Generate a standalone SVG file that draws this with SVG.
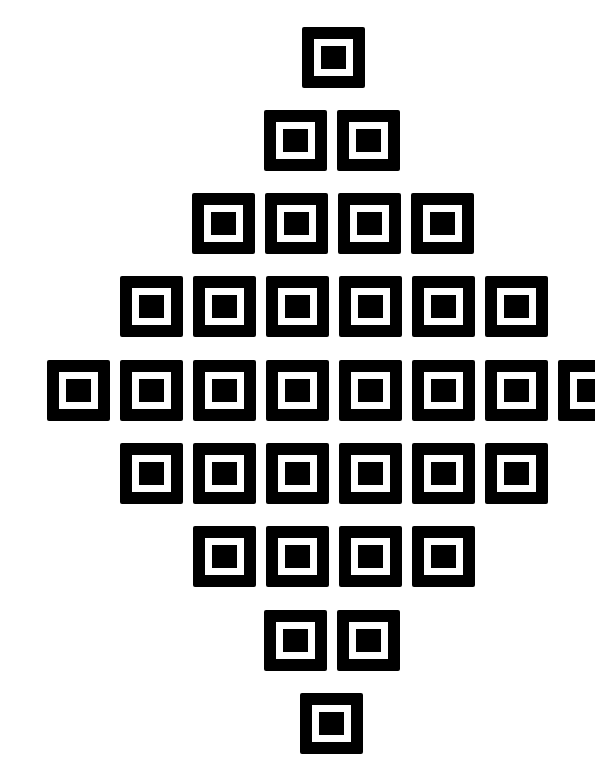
<svg xmlns="http://www.w3.org/2000/svg" xmlns:xlink="http://www.w3.org/1999/xlink" width="595" height="759" viewBox="0 0 595 759">
<defs>
<style>.o{fill:#000}.w{fill:#fff}</style>
<g id="sq">
<rect class="o" x="0" y="0" width="63" height="61" rx="2"/>
<rect class="w" x="12" y="12" width="39" height="37"/>
<rect class="o" x="19" y="19" width="25" height="23"/>
</g>
</defs>
<rect width="595" height="759" fill="#fff"/>
<g id="row1"><g id="n1_1"><use href="#sq" x="302" y="27"/></g></g>
<g id="row2"><g id="n2_1"><use href="#sq" x="264" y="110"/></g><g id="n2_2"><use href="#sq" x="337" y="110"/></g></g>
<g id="row3"><g id="n3_1"><use href="#sq" x="192" y="193"/></g><g id="n3_2"><use href="#sq" x="265" y="193"/></g><g id="n3_3"><use href="#sq" x="338" y="193"/></g><g id="n3_4"><use href="#sq" x="411" y="193"/></g></g>
<g id="row4"><g id="n4_1"><use href="#sq" x="120" y="276"/></g><g id="n4_2"><use href="#sq" x="193" y="276"/></g><g id="n4_3"><use href="#sq" x="266" y="276"/></g><g id="n4_4"><use href="#sq" x="339" y="276"/></g><g id="n4_5"><use href="#sq" x="412" y="276"/></g><g id="n4_6"><use href="#sq" x="485" y="276"/></g></g>
<g id="row5"><g id="n5_1"><use href="#sq" x="47" y="360"/></g><g id="n5_2"><use href="#sq" x="120" y="360"/></g><g id="n5_3"><use href="#sq" x="193" y="360"/></g><g id="n5_4"><use href="#sq" x="266" y="360"/></g><g id="n5_5"><use href="#sq" x="339" y="360"/></g><g id="n5_6"><use href="#sq" x="412" y="360"/></g><g id="n5_7"><use href="#sq" x="485" y="360"/></g><g id="n5_8"><use href="#sq" x="558" y="360"/></g></g>
<g id="row6"><g id="n6_1"><use href="#sq" x="120" y="443"/></g><g id="n6_2"><use href="#sq" x="193" y="443"/></g><g id="n6_3"><use href="#sq" x="266" y="443"/></g><g id="n6_4"><use href="#sq" x="339" y="443"/></g><g id="n6_5"><use href="#sq" x="412" y="443"/></g><g id="n6_6"><use href="#sq" x="485" y="443"/></g></g>
<g id="row7"><g id="n7_1"><use href="#sq" x="193" y="526"/></g><g id="n7_2"><use href="#sq" x="266" y="526"/></g><g id="n7_3"><use href="#sq" x="339" y="526"/></g><g id="n7_4"><use href="#sq" x="412" y="526"/></g></g>
<g id="row8"><g id="n8_1"><use href="#sq" x="264" y="610"/></g><g id="n8_2"><use href="#sq" x="337" y="610"/></g></g>
<g id="row9"><g id="n9_1"><use href="#sq" x="300" y="693"/></g></g>
<g id="connectors"></g>
</svg>
